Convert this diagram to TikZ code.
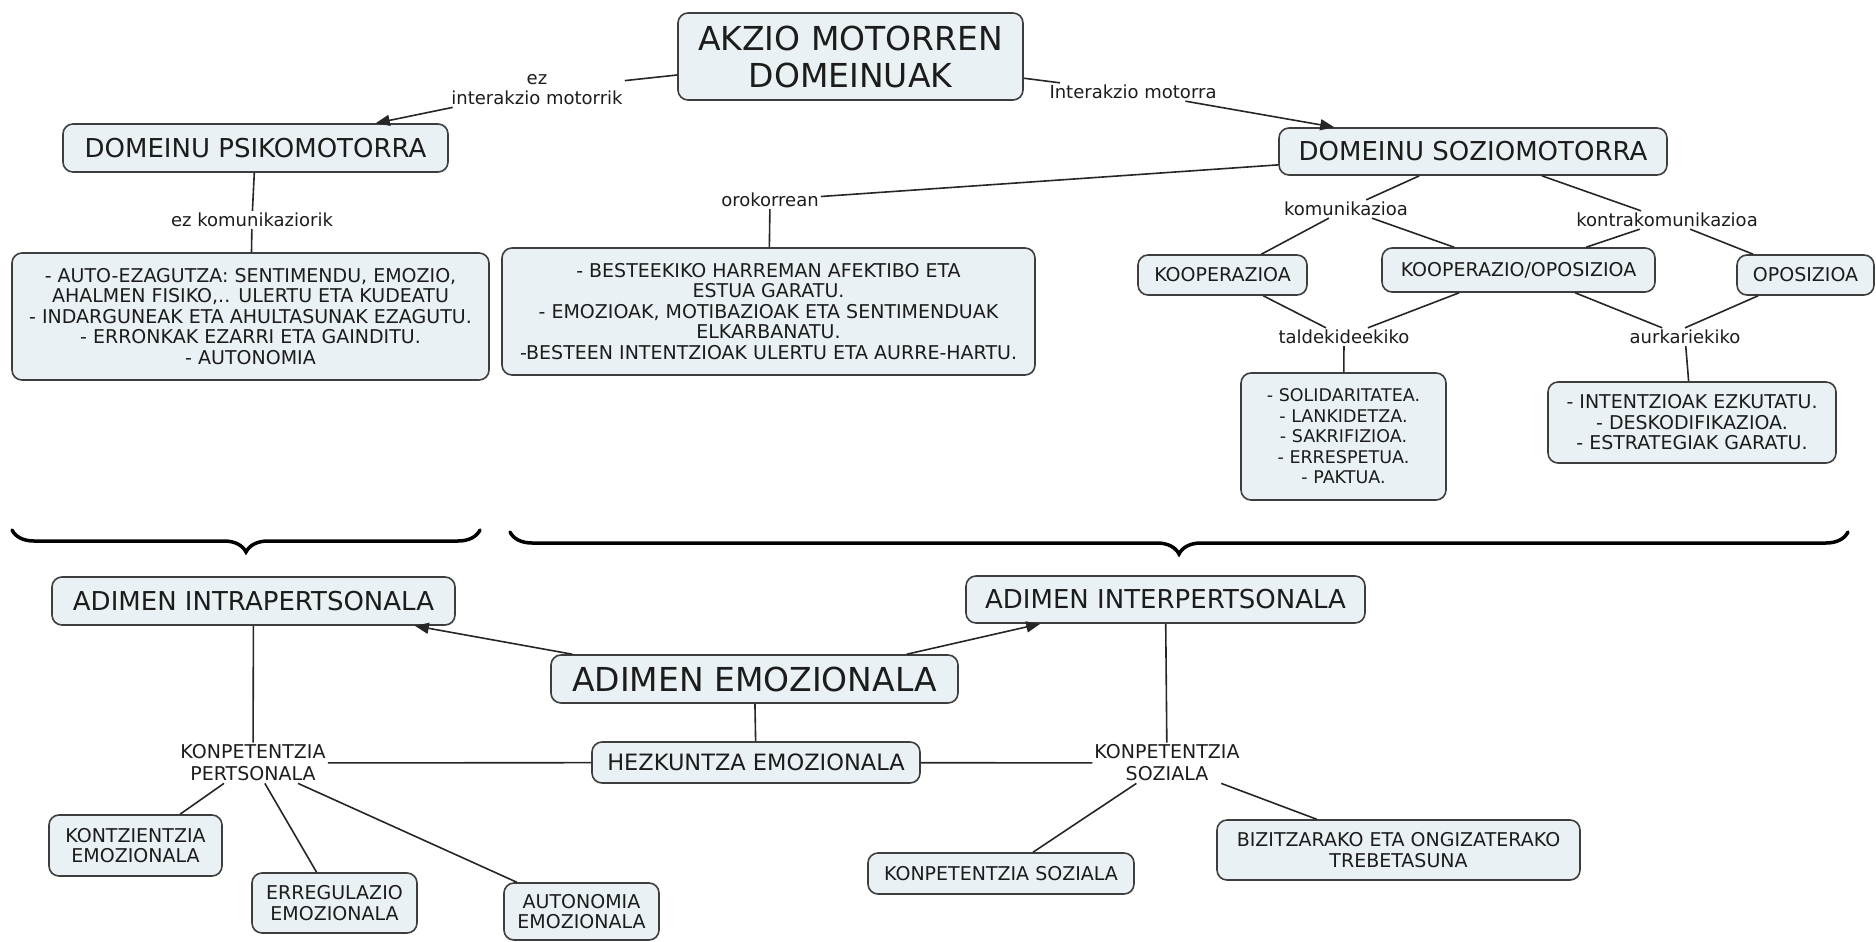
\documentclass[tikz,border=0pt]{standalone}
\usepackage{fontspec}
\setmainfont{DejaVu Sans}
\usetikzlibrary{arrows.meta,decorations.pathreplacing}
\definecolor{BoxFill}{RGB}{234,241,244}
\definecolor{BoxLine}{RGB}{62,62,62}
\definecolor{LinkGray}{RGB}{38,38,38}
\definecolor{InkDark}{RGB}{28,28,28}

\begin{document}
\begin{tikzpicture}[x=1pt,y=-1pt,
  box/.style={rectangle,draw=BoxLine,fill=BoxFill,line width=1.6pt,rounded corners=10pt,inner sep=0pt,align=center,text=InkDark},
  huge/.style={box,font=\fontsize{33}{37}\selectfont},
  mid/.style={box,font=\fontsize{26}{30}\selectfont},
  sml/.style={box,font=\fontsize{19}{20.5}\selectfont},
  lbl/.style={inner sep=2pt,align=center,text=InkDark,font=\fontsize{18}{20}\selectfont},
  caps/.style={lbl,font=\fontsize{19}{22}\selectfont},
  link/.style={line width=1.6pt,draw=LinkGray},
  arr/.style={link,-{Triangle[length=14pt,width=11pt]}},
  brc/.style={line width=3.5pt,line cap=round,decorate,decoration={brace,mirror,amplitude=22pt}}
]
  \useasboundingbox (0,0) rectangle (1876,942);
  % top: action domains
  \node[huge,minimum width=345pt,minimum height=87pt] (akzio) at (850.5,56.5) {AKZIO MOTORREN\\DOMEINUAK};
  \node[mid,minimum width=385pt,minimum height=48pt] (psiko) at (255.5,148) {DOMEINU PSIKOMOTORRA};
  \node[mid,minimum width=388pt,minimum height=47pt] (sozio) at (1473,151.5) {DOMEINU SOZIOMOTORRA};
  \node[sml,minimum width=477pt,minimum height=127pt] (autoez) at (250.5,316.5) {- AUTO-EZAGUTZA: SENTIMENDU, EMOZIO,\\AHALMEN FISIKO,.. ULERTU ETA KUDEATU\\- INDARGUNEAK ETA AHULTASUNAK EZAGUTU.\\- ERRONKAK EZARRI ETA GAINDITU.\\- AUTONOMIA};
  \node[sml,minimum width=533pt,minimum height=127pt] (bestee) at (768.5,311.5) {- BESTEEKIKO HARREMAN AFEKTIBO ETA\\ESTUA GARATU.\\- EMOZIOAK, MOTIBAZIOAK ETA SENTIMENDUAK\\ELKARBANATU.\\-BESTEEN INTENTZIOAK ULERTU ETA AURRE-HARTU.};
  \node[sml,minimum width=169pt,minimum height=40pt] (kooper) at (1222.5,275) {KOOPERAZIOA};
  \node[sml,minimum width=273pt,minimum height=44pt] (koopos) at (1518.5,270) {KOOPERAZIO/OPOSIZIOA};
  \node[sml,minimum width=137pt,minimum height=40pt] (oposiz) at (1805.5,275) {OPOSIZIOA};
  \node[sml,font=\fontsize{17.5}{20.5}\selectfont,minimum width=205pt,minimum height=127pt] (solid) at (1343.5,436.5) {- SOLIDARITATEA.\\- LANKIDETZA.\\- SAKRIFIZIOA.\\- ERRESPETUA.\\- PAKTUA.};
  \node[sml,minimum width=288pt,minimum height=81pt] (intenz) at (1692,422.5) {- INTENTZIOAK EZKUTATU.\\- DESKODIFIKAZIOA.\\- ESTRATEGIAK GARATU.};
  % link labels
  \node[lbl] (ezinter) at (537,90) {ez\\interakzio motorrik};
  \node[lbl] (intmot) at (1133,92) {Interakzio motorra};
  \node[lbl] (ezkom) at (252,220) {ez komunikaziorik};
  \node[lbl] (orokor) at (770,200) {orokorrean};
  \node[lbl] (komun) at (1346,209) {komunikazioa};
  \node[lbl] (kontra) at (1667,220) {kontrakomunikazioa};
  \node[lbl] (taldek) at (1344,337) {taldekideekiko};
  \node[lbl] (aurkar) at (1685,337) {aurkariekiko};
  \draw[link] (akzio) -- (ezinter);
  \draw[arr] (ezinter) -- (psiko);
  \draw[link] (akzio) -- (intmot);
  \draw[arr] (intmot) -- (sozio);
  \draw[link] (psiko) -- (ezkom);
  \draw[link] (ezkom) -- (autoez);
  \draw[link] (sozio) -- (orokor);
  \draw[link] (orokor) -- (bestee);
  \draw[link] (sozio) -- (komun);
  \draw[link] (komun) -- (kooper);
  \draw[link] (komun) -- (koopos);
  \draw[link] (sozio) -- (kontra);
  \draw[link] (kontra) -- (koopos);
  \draw[link] (kontra) -- (oposiz);
  \draw[link] (kooper) -- (taldek);
  \draw[link] (koopos) -- (taldek);
  \draw[link] (taldek) -- (solid);
  \draw[link] (koopos) -- (aurkar);
  \draw[link] (oposiz) -- (aurkar.north);
  \draw[link] (aurkar) -- (intenz);
  % braces
  \draw[brc] (12,530) -- (480,530);
  \draw[brc] (510,532) -- (1848,532);
  % bottom: emotional intelligence
  \node[mid,minimum width=403pt,minimum height=48pt] (intra) at (253.5,601) {ADIMEN INTRAPERTSONALA};
  \node[mid,minimum width=399pt,minimum height=47pt] (inter) at (1165.5,599.5) {ADIMEN INTERPERTSONALA};
  \node[huge,minimum width=407pt,minimum height=48pt] (emoz) at (754.5,679) {ADIMEN EMOZIONALA};
  \node[box,font=\fontsize{22.5}{25}\selectfont,minimum width=328pt,minimum height=41pt] (hezk) at (756,762.5) {HEZKUNTZA EMOZIONALA};
  \node[caps] (konper) at (253,763) {KONPETENTZIA\\PERTSONALA};
  \node[caps] (konsoz) at (1167,763) {KONPETENTZIA\\SOZIALA};
  \node[sml,minimum width=173pt,minimum height=61pt] (kontz) at (135.5,845.5) {KONTZIENTZIA\\EMOZIONALA};
  \node[sml,minimum width=165pt,minimum height=60pt] (erreg) at (334.5,903) {ERREGULAZIO\\EMOZIONALA};
  \node[sml,minimum width=155pt,minimum height=57pt] (auton) at (581.5,911.5) {AUTONOMIA\\EMOZIONALA};
  \node[sml,minimum width=266pt,minimum height=41pt] (ksbox) at (1001,873.5) {KONPETENTZIA SOZIALA};
  \node[sml,minimum width=363pt,minimum height=60pt] (bizi) at (1398.5,850) {BIZITZARAKO ETA ONGIZATERAKO\\TREBETASUNA};
  \draw[arr] ([xshift=22pt]emoz.north west) -- ([xshift=-41pt]intra.south east);
  \draw[arr] ([xshift=-52pt]emoz.north east) -- ([xshift=75pt]inter.south west);
  \draw[link] (emoz) -- (hezk);
  \draw[link] (intra) -- (konper);
  \draw[link] (konper) -- (hezk);
  \draw[link] (inter) -- (konsoz);
  \draw[link] (hezk) -- (konsoz);
  \draw[link] (konper) -- (kontz);
  \draw[link] (konper) -- (erreg);
  \draw[link] (konper) -- (auton);
  \draw[link] (konsoz) -- (ksbox);
  \draw[link] (konsoz) -- (bizi);
\end{tikzpicture}
\end{document}
